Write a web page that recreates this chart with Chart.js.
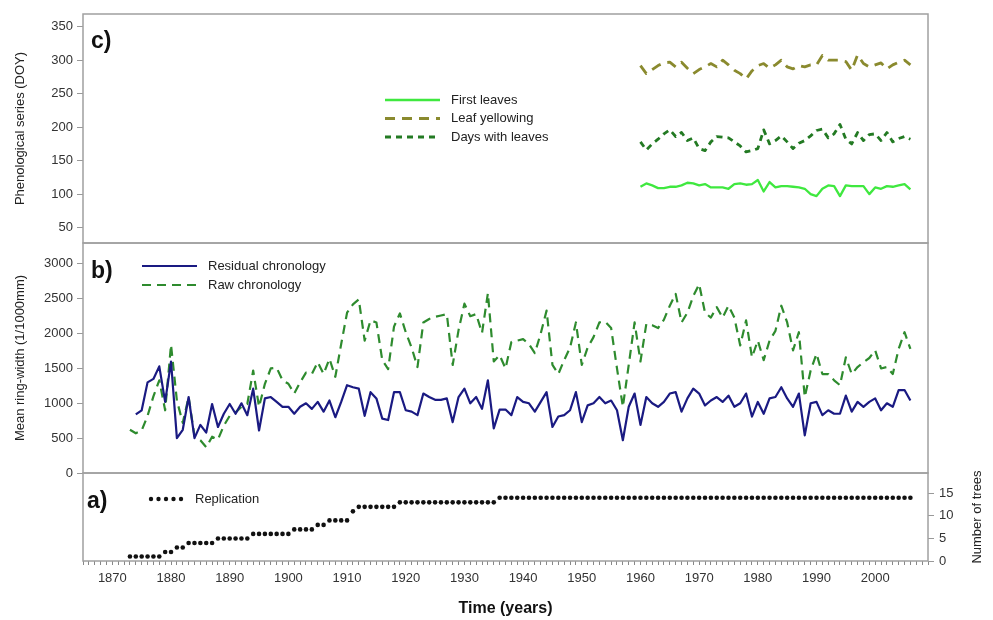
<!DOCTYPE html>
<html>
<head>
<meta charset="utf-8">
<title>Phenology and tree-ring chronology</title>
<script src="https://cdn.jsdelivr.net/npm/chart.js@4.4.1/dist/chart.umd.min.js"></script>
<style>
  body { margin: 0; background: #fff; }
  #wrap { position: relative; width: 993px; height: 620px; }
  .panel { position: absolute; left: 0; width: 993px; }
</style>
</head>
<body>
<div id="wrap">
  <div class="panel" style="top:0;height:256px"><canvas id="chartC"></canvas></div>
  <div class="panel" style="top:230px;height:260px"><canvas id="chartB"></canvas></div>
  <div class="panel" style="top:460px;height:160px"><canvas id="chartA"></canvas></div>
</div>
<script>
// ------------------ Data ------------------
const xMin = 1865, xMax = 2009;
const phenoTicks = [50, 100, 150, 200, 250, 300, 350];
const ringTicks = [0, 500, 1000, 1500, 2000, 2500, 3000];
const treeTicks = [0, 5, 10, 15];

// years 1873..2006 (raw chronology, replication); residual starts one year later
const ringYears = [];
for (let y = 1873; y <= 2006; y++) ringYears.push(y);
const phenoYears = [];
for (let y = 1960; y <= 2006; y++) phenoYears.push(y);

const rawChronology = [
  620, 570, 610, 820, 1100, 1330, 900,
  1840, 1040, 720, 1090, 530, 470, 370, 520, 480, 680,
  820, 870, 950, 990, 1470, 950, 1280, 1500, 1510, 1330,
  1280, 1140, 1300, 1440, 1420, 1590, 1420, 1640, 1380, 1850,
  2300, 2420, 2490, 1900, 2190, 2160, 1620, 1490, 2100, 2290,
  2020, 1800, 1520, 2160, 2210, 2240, 2260, 2280, 1550, 2050,
  2430, 2250, 2280, 2010, 2580, 1600, 1690, 1500, 1880, 1900,
  1920, 1850, 1720, 2000, 2330, 1550, 1420, 1620, 1800, 2160,
  1550, 1800, 1950, 2160, 2170, 2080, 1500, 950, 1550, 2160,
  1600, 2140, 2120, 2080, 2200, 2400, 2570, 2160, 2300, 2540,
  2710, 2300, 2230, 2380, 2230, 2400, 2230, 1830, 2190, 1660,
  1900, 1620, 1900, 2040, 2400, 2160, 1760, 2020, 1090, 1470,
  1710, 1420, 1420, 1330, 1260, 1660, 1420, 1520, 1590, 1650,
  1760, 1500, 1520, 1420, 1780, 2020, 1780
];

const residualChronology = [
  840, 900, 1300, 1350, 1530, 1020,
  1600, 500, 620, 1090, 500, 690, 580, 990, 660, 850,
  990, 850, 1000, 830, 1210, 610, 1070, 1090, 1020, 950,
  950, 850, 950, 1000, 920, 1020, 880, 1040, 800, 1020,
  1260, 1230, 1210, 820, 1160, 1070, 780, 760, 1160, 1160,
  900, 880, 830, 1140, 1090, 1050, 1050, 1070, 730, 1090,
  1210, 1000, 1090, 920, 1330, 640, 910, 910, 830, 1090,
  1020, 1000, 880, 1020, 1160, 660, 810, 830, 900, 1160,
  730, 970, 1000, 1090, 1000, 1040, 900, 470, 950, 1140,
  690, 1090, 1000, 950, 1020, 1140, 1160, 880, 1070, 1210,
  1140, 970, 1040, 1090, 1020, 1110, 950, 1000, 1140, 810,
  1020, 850, 1070, 1090, 1230, 1070, 950, 1140, 540, 1000,
  1020, 830, 900, 850, 850, 1110, 880, 1020, 950, 1020,
  1070, 900, 1000, 950, 1190, 1190, 1040
];

const replication = [
  1, 1, 1, 1, 1, 1, 2,
  2, 3, 3, 4, 4, 4, 4, 4, 5, 5,
  5, 5, 5, 5, 6, 6, 6, 6, 6, 6,
  6, 7, 7, 7, 7, 8, 8, 9, 9, 9,
  9, 11, 12, 12, 12, 12, 12, 12, 12, 13,
  13, 13, 13, 13, 13, 13, 13, 13, 13, 13,
  13, 13, 13, 13, 13, 13, 14, 14, 14, 14,
  14, 14, 14, 14, 14, 14, 14, 14, 14, 14,
  14, 14, 14, 14, 14, 14, 14, 14, 14, 14,
  14, 14, 14, 14, 14, 14, 14, 14, 14, 14,
  14, 14, 14, 14, 14, 14, 14, 14, 14, 14,
  14, 14, 14, 14, 14, 14, 14, 14, 14, 14,
  14, 14, 14, 14, 14, 14, 14, 14, 14, 14,
  14, 14, 14, 14, 14, 14, 14
];

const firstLeaves = [
  111, 116, 113, 109, 109, 111, 111, 113, 117, 116,
  113, 115, 110, 110, 110, 108, 115, 116, 114, 115,
  121, 104, 118, 110, 112, 112, 111, 110, 108, 100,
  97, 108, 113, 112, 97, 113, 112, 112, 112, 100,
  110, 108, 112, 111, 113, 115, 107
];
const leafYellowing = [
  292, 280, 286, 292, 296, 297, 290, 297, 288, 280,
  286, 290, 295, 290, 300, 293, 285, 280, 272, 284,
  292, 295, 288, 293, 300, 290, 287, 292, 290, 293,
  293, 307, 300, 300, 300, 298, 285, 308, 295, 290,
  293, 296, 287, 293, 297, 300, 293
];
const daysWithLeaves = [
  178, 166, 175, 182, 190, 196, 186, 192, 180, 184,
  168, 165, 178, 186, 185, 184, 178, 172, 163, 165,
  168, 196, 175, 180, 187, 178, 168, 176, 180, 187,
  195, 197, 184, 190, 204, 182, 175, 192, 180, 189,
  190, 180, 192, 178, 183, 186, 182
];

// ------------------ Helpers ------------------
Chart.defaults.font.family = '"Liberation Sans", Arial, sans-serif';
Chart.defaults.font.size = 13;
Chart.defaults.color = '#333';

const pts = (xs, ys) => ys.map((v, i) => ({ x: xs[i], y: v }));
const asText = v => String(v);

const framePlugin = {
  id: 'frame',
  afterDraw(chart) {
    const { ctx, chartArea: a } = chart;
    ctx.save();
    ctx.strokeStyle = '#a0a0a0';
    ctx.lineWidth = 1.5;
    ctx.strokeRect(a.left, a.top, a.right - a.left, a.bottom - a.top);
    ctx.restore();
  }
};

// panel tag + hand-placed legend inside the plot area
function panelLegend(tag, lx, ly, rowH, lineLen) {
  return {
    id: 'panelLegend',
    afterDraw(chart) {
      const { ctx, chartArea: a } = chart;
      ctx.save();
      ctx.fillStyle = '#111';
      ctx.font = 'bold 23px "Liberation Sans", Arial, sans-serif';
      ctx.textBaseline = 'alphabetic';
      ctx.fillText(tag.text, a.left + tag.dx, a.top + tag.dy);

      ctx.font = '13px "Liberation Sans", Arial, sans-serif';
      ctx.textBaseline = 'middle';
      chart.data.datasets.forEach((ds, i) => {
        const x0 = a.left + lx, y0 = a.top + ly + i * rowH;
        if (ds.showLine === false) {
          ctx.fillStyle = ds.pointBackgroundColor;
          for (let k = 0; k < 5; k++) {
            ctx.beginPath();
            ctx.arc(x0 + 3 + k * 7.5, y0, 2.2, 0, Math.PI * 2);
            ctx.fill();
          }
        } else {
          ctx.strokeStyle = ds.borderColor;
          ctx.lineWidth = ds.borderWidth;
          ctx.setLineDash(ds.borderDash || []);
          ctx.beginPath();
          ctx.moveTo(x0, y0);
          ctx.lineTo(x0 + lineLen, y0);
          ctx.stroke();
          ctx.setLineDash([]);
        }
        ctx.fillStyle = '#222';
        ctx.fillText(ds.label, x0 + lineLen + 11, y0);
      });
      ctx.restore();
    }
  };
}

function leftAxis(min, max, ticks, title) {
  return {
    min, max,
    afterBuildTicks: s => { s.ticks = ticks.map(v => ({ value: v })); },
    afterFit: s => { s.width = 83; },
    grid: { drawOnChartArea: false, tickLength: 6, color: '#999' },
    border: { display: false },
    ticks: { padding: 4, callback: asText },
    title: { display: true, text: title, color: '#222', padding: { top: 13, bottom: 0 }, font: { size: 13 } }
  };
}

const hiddenX = { type: 'linear', min: xMin, max: xMax, display: false };

const baseOpts = {
  responsive: true,
  maintainAspectRatio: false,
  animation: false,
  plugins: { legend: { display: false }, tooltip: { enabled: false } },
  elements: {
    point: { radius: 0 },
    line: { tension: 0, borderJoinStyle: 'round', borderCapStyle: 'butt' }
  }
};

// ------------------ c) Phenology ------------------
new Chart(document.getElementById('chartC'), {
  type: 'line',
  data: {
    datasets: [
      { label: 'First leaves', data: pts(phenoYears, firstLeaves), borderColor: '#3fe83f', borderWidth: 2.3 },
      { label: 'Leaf yellowing', data: pts(phenoYears, leafYellowing), borderColor: '#8a8a2e', borderWidth: 2.8, borderDash: [10, 7] },
      { label: 'Days with leaves', data: pts(phenoYears, daysWithLeaves), borderColor: '#237a23', borderWidth: 2.8, borderDash: [6, 5] }
    ]
  },
  options: {
    ...baseOpts,
    layout: { padding: { left: 0, right: 65, top: 14, bottom: 13 } },
    scales: {
      x: hiddenX,
      y: leftAxis(27, 369, phenoTicks, 'Phenological series (DOY)')
    }
  },
  plugins: [framePlugin, panelLegend({ text: 'c)', dx: 8, dy: 34 }, 302, 86, 18.5, 55)]
});

// ------------------ b) Ring width ------------------
new Chart(document.getElementById('chartB'), {
  type: 'line',
  data: {
    datasets: [
      { label: 'Residual chronology', data: pts(ringYears.slice(1), residualChronology), borderColor: '#1a1a82', borderWidth: 2.2 },
      { label: 'Raw chronology', data: pts(ringYears, rawChronology), borderColor: '#2e8b2e', borderWidth: 2.2, borderDash: [9, 6] }
    ]
  },
  options: {
    ...baseOpts,
    layout: { padding: { left: 0, right: 65, top: 13, bottom: 17 } },
    scales: {
      x: hiddenX,
      y: leftAxis(0, 3300, ringTicks, 'Mean ring-width (1/1000mm)')
    }
  },
  plugins: [framePlugin, panelLegend({ text: 'b)', dx: 8, dy: 35 }, 59, 23, 19, 55)]
});

// ------------------ a) Replication ------------------
const rightTitle = {
  id: 'rightTitle',
  afterDraw(chart) {
    const s = chart.scales.y, ctx = chart.ctx;
    ctx.save();
    ctx.translate(s.right - 16, (s.top + s.bottom) / 2);
    ctx.rotate(-Math.PI / 2);
    ctx.font = '13px "Liberation Sans", Arial, sans-serif';
    ctx.fillStyle = '#222';
    ctx.textAlign = 'center';
    ctx.textBaseline = 'middle';
    ctx.fillText('Number of trees', 0, 0);
    ctx.restore();
  }
};

new Chart(document.getElementById('chartA'), {
  type: 'line',
  data: {
    datasets: [
      { label: 'Replication', data: pts(ringYears, replication), showLine: false,
        pointRadius: 2.3, pointBackgroundColor: '#111', pointBorderWidth: 0, borderColor: '#111' }
    ]
  },
  options: {
    ...baseOpts,
    layout: { padding: { left: 83, right: 0, top: 13, bottom: 0 } },
    scales: {
      x: {
        type: 'linear', min: xMin, max: xMax,
        afterFit: s => { s.height = 59; },
        grid: { drawOnChartArea: false, tickLength: 4, color: '#888' },
        border: { display: false },
        ticks: { stepSize: 1, autoSkip: false, maxRotation: 0, padding: 6,
                 callback: v => (v % 10 === 0 ? String(v) : '') },
        title: { display: true, text: 'Time (years)', color: '#111', padding: { top: 4, bottom: 2 },
                 font: { size: 16, weight: 'bold' } }
      },
      y: {
        position: 'right', min: 0, max: 19.5,
        afterBuildTicks: s => { s.ticks = treeTicks.map(v => ({ value: v })); },
        afterFit: s => { s.width = 65; },
        grid: { drawOnChartArea: false, tickLength: 6, color: '#999' },
        border: { display: false },
        ticks: { padding: 5, callback: asText }
      }
    }
  },
  plugins: [framePlugin, rightTitle, panelLegend({ text: 'a)', dx: 4, dy: 35 }, 65, 26, 18, 36)]
});
</script>
</body>
</html>
